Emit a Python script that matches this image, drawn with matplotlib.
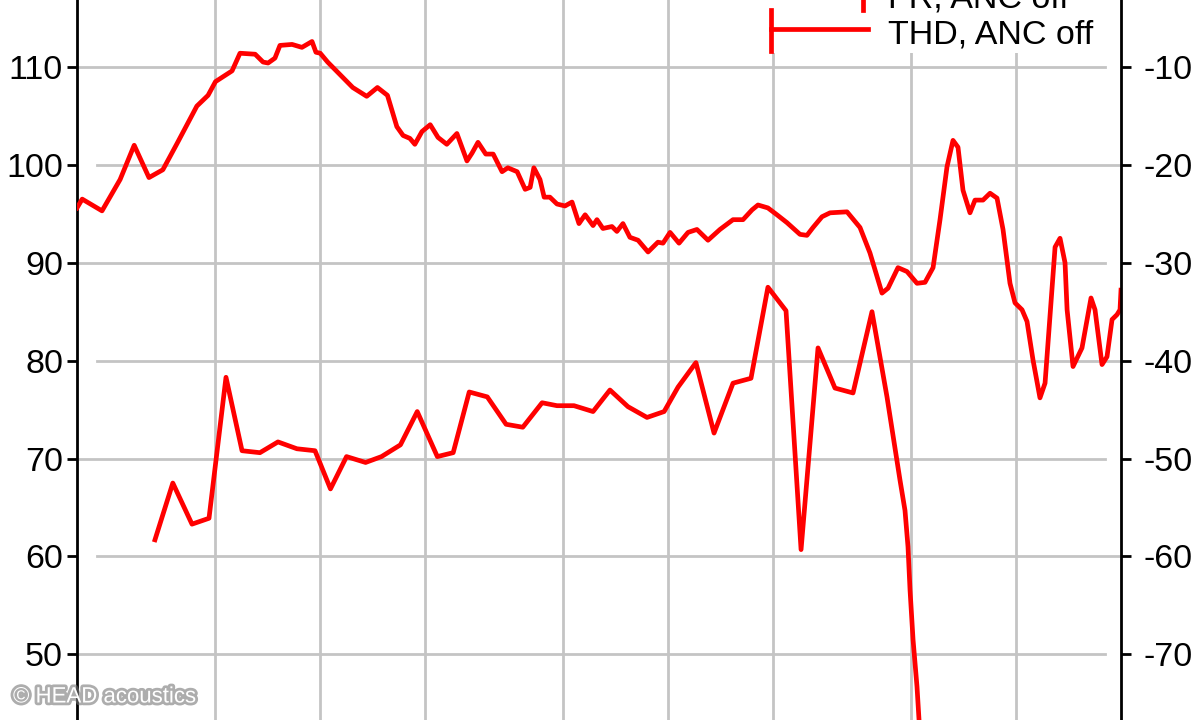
import matplotlib
matplotlib.use("Agg")
import matplotlib.pyplot as plt
import matplotlib.patheffects as pe
from matplotlib.lines import Line2D
from matplotlib.patches import Rectangle
from matplotlib.ticker import NullLocator, FixedLocator

plt.rcParams['font.family'] = ['Liberation Sans', 'DejaVu Sans']
plt.rcParams['axes.unicode_minus'] = False

# Frequency response, ANC off (left axis, dB)
fr_freq = [20, 20.7, 23.6, 26.6, 29.2, 32.2, 35.3, 38.8, 44.2, 47.6, 50, 55.8, 58.8,
           65.0, 68.5, 70.8, 74.1, 76.6, 83.0, 88.6, 94.7, 97.2, 100, 105, 124, 136,
           146, 156, 166, 173, 181, 187, 196, 207, 218, 231, 247, 264, 273, 284, 299,
           314, 333, 346, 368, 388, 401, 411, 428, 440, 457, 479, 505, 529, 554, 577,
           608, 624, 649, 689, 712, 741, 776, 819, 875, 934, 966, 1012, 1074, 1140,
           1209, 1301, 1408, 1535, 1640, 1741, 1811, 1934, 2053, 2193, 2391, 2504,
           2606, 2766, 2917, 3264, 3557, 3799, 4114, 4281, 4573, 4855, 5186, 5469,
           5767, 6039, 6325, 6581, 6802, 7031, 7364, 7612, 8026, 8408, 8806, 9162,
           9595, 9919, 10390, 10740, 11170, 11700, 12100, 12500, 12930, 13360, 13810,
           14000, 14560, 15450, 16400, 16840, 17640, 18230, 18850, 19480, 19870, 20000]
fr_db = [95.6, 96.5, 95.3, 98.5, 102.0, 98.7, 99.5, 102.2, 106.0, 107.1, 108.5, 109.6,
         111.4, 111.3, 110.5, 110.4, 110.9, 112.2, 112.3, 112.0, 112.6, 111.5, 111.4,
         110.5, 107.9, 107.0, 107.9, 107.1, 103.9, 103.0, 102.7, 102.1, 103.4, 104.1,
         102.8, 102.1, 103.2, 100.4, 101.2, 102.3, 101.1, 101.1, 99.3, 99.7, 99.3,
         97.5, 97.7, 99.7, 98.5, 96.7, 96.7, 96.0, 95.8, 96.2, 94.0, 94.9, 93.8, 94.4,
         93.5, 93.7, 93.2, 94.0, 92.6, 92.3, 91.1, 92.1, 92.0, 93.1, 92.0, 93.1, 93.4,
         92.3, 93.4, 94.4, 94.4, 95.4, 95.9, 95.6, 94.9, 94.1, 92.9, 92.8, 93.6, 94.7,
         95.1, 95.2, 93.6, 91.0, 86.9, 87.4, 89.5, 89.1, 87.9, 88.0, 89.5, 94.4, 99.8,
         102.5, 101.8, 97.4, 95.1, 96.4, 96.4, 97.1, 96.6, 93.4, 87.9, 85.9, 85.2,
         84.0, 80.1, 76.2, 77.7, 84.5, 91.6, 92.5, 90.0, 85.2, 79.4, 81.3, 86.4, 85.2,
         79.6, 80.4, 84.2, 84.7, 85.2, 87.2]

# THD, ANC off (right axis, dB)
thd_freq = [33.5, 37.7, 42.8, 47.9, 53.6, 59.6, 67.1, 75.6, 85.7, 96.6, 107, 119, 135,
            150, 170, 190, 217, 241, 268, 302, 342, 382, 434, 479, 536, 608, 680, 766,
            869, 973, 1067, 1201, 1354, 1535, 1729, 1934, 2180, 2408, 2694, 3014, 3396,
            3850, 4252, 4634, 4790, 4886, 4952, 5052, 5186, 5256, 5362]
thd_db = [-58.3, -52.5, -56.7, -56.1, -41.7, -49.2, -49.4, -48.3, -49.0, -49.2, -53.1,
          -49.8, -50.4, -49.8, -48.6, -45.2, -49.8, -49.4, -43.2, -43.7, -46.5, -46.8,
          -44.3, -44.6, -44.6, -45.2, -43.0, -44.7, -45.8, -45.2, -42.7, -40.2, -47.4,
          -42.3, -41.8, -32.5, -34.9, -59.3, -38.7, -42.8, -43.3, -35.0, -43.7, -52.2,
          -55.3, -59.0, -63.4, -68.5, -73.3, -76.7, -82.8]

grid_freq = [50, 100, 200, 500, 1000, 2000, 5000, 10000]
left_ticks = [40, 50, 60, 70, 80, 90, 100, 110]
right_ticks = [-80, -70, -60, -50, -40, -30, -20, -10]

W, H = 1199, 720
fig = plt.figure(figsize=(W / 100, H / 100), dpi=100)
ax = fig.add_axes([77 / W, -0.1128, 1044 / W, 1.1558])
ax2 = ax.twinx()

ax.set_xscale('log')
ax.set_xlim(20, 20000)
ax.set_ylim(35, 120)
ax2.set_ylim(-85, 0)

ax.xaxis.set_major_locator(FixedLocator(grid_freq))
ax.xaxis.set_minor_locator(NullLocator())
ax.tick_params(axis='x', length=0, labelbottom=False)
ax.grid(axis='x', color='#c4c4c4', lw=2)

# horizontal grid, alternating extents as in the original
for v in [50, 60, 70, 80, 90, 100, 110]:
    if v % 20 == 10:
        ax.axhline(v, xmin=0.0, xmax=0.985, color='#c4c4c4', lw=2, zorder=0.5)
    else:
        ax.axhline(v, xmin=0.019, xmax=1.0, color='#c4c4c4', lw=2, zorder=0.5)

ax.set_yticks(left_ticks)
ax2.set_yticks(right_ticks)
ax.tick_params(axis='y', direction='out', length=7, width=2, labelsize=24.5, pad=3)
ax2.tick_params(axis='y', direction='out', length=7, width=2, labelsize=24.5, pad=9)

for s in ['top', 'bottom', 'right']:
    ax.spines[s].set_visible(False)
for s in ['top', 'bottom', 'left']:
    ax2.spines[s].set_visible(False)
ax.spines['left'].set_linewidth(2)
ax2.spines['right'].set_linewidth(2)

ax.plot(fr_freq, fr_db, color='#ff0000', lw=3.4, zorder=3, solid_joinstyle='round')
ax2.plot(thd_freq, thd_db, color='#ff0000', lw=3.4, zorder=3, solid_joinstyle='round')


def fx(px):
    return px / W


def fy(py):
    return 1 - py / H


# legend box and entries
fig.patches.append(Rectangle((fx(755), fy(53)), fx(1108) - fx(755), 1 - fy(53) + 0.1,
                             transform=fig.transFigure, facecolor='white',
                             edgecolor='none', zorder=2))
red = '#ff0000'
fig.add_artist(Line2D([fx(770), fx(863)], [fy(-10), fy(-10)], color=red, lw=3.4, zorder=3))
fig.add_artist(Line2D([fx(863), fx(863)], [fy(-30), fy(10)], color=red, lw=3.4, zorder=3))
fig.add_artist(Line2D([fx(771), fx(868)], [fy(29), fy(29)], color=red, lw=3.4, zorder=3))
fig.add_artist(Line2D([fx(771), fx(771)], [fy(10), fy(51)], color=red, lw=3.4, zorder=3))
fig.text(fx(888), fy(8), 'FR, ANC off', fontsize=24.5, va='baseline', ha='left', zorder=4)
fig.text(fx(888), fy(43), 'THD, ANC off', fontsize=24.5, va='baseline', ha='left', zorder=4)

fig.text(fx(13), fy(697), '\u00a9 HEAD acoustics', fontsize=16, color='white',
         va='center', ha='left', zorder=5,
         path_effects=[pe.withStroke(linewidth=4, foreground='#777777', alpha=0.6)])

fig.savefig('out.png', dpi=100)
